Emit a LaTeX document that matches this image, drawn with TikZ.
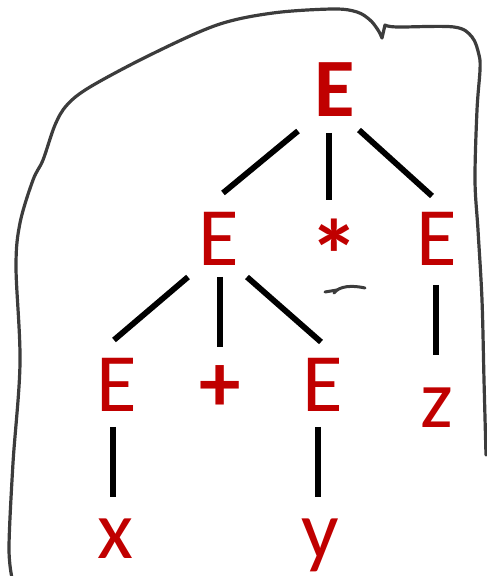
\documentclass[tikz,border=0pt]{standalone}
\usepackage{fontspec}
\setmainfont{Carlito}
\usetikzlibrary{calc}
\definecolor{sym}{HTML}{C00000}
\definecolor{pen}{HTML}{3C3C3C}
\tikzset{
  sym/.style={text=sym, anchor=base, inner sep=0pt, font=\fontsize{83}{90}\selectfont},
  symb/.style={sym, font=\fontsize{83}{90}\selectfont\bfseries},
  edge/.style={line width=5.8pt, black, line cap=butt},
  outline/.style={line width=3.2pt, pen, line cap=round, line join=round},
  penmark/.style={line width=3pt, pen, line cap=round}
}
\begin{document}
\begin{tikzpicture}[x=1pt,y=1pt]
\useasboundingbox (0,0) rectangle (487,576);
% nodes
\node[symb] (t)  at (335,459) {E};
\node[sym]  (l)  at (219,310) {E};
\node[symb, font=\fontsize{100}{110}\selectfont\bfseries] (m)  at (334,285) {*};
\node[sym]  (r)  at (437,310) {E};
\node[sym]  (ll) at (117,164) {E};
\node[symb] (lm) at (220,164) {+};
\node[sym]  (lr) at (323,164) {E};
\node[sym]  (rz) at (437,148) {z};
\node[sym]  (x)  at (115,17) {x};
\node[sym]  (y)  at (320,17) {y};
% edges
\draw[edge] ($(t.base)+(-37,-14)$) -- ($(l.base)+(4,73)$);
\draw[edge] ($(t.base)+(-6,-16)$) -- ($(m.base)+(-5,91)$);
\draw[edge] ($(t.base)+(24,-13)$) -- ($(r.base)+(-5,70)$);
\draw[edge] ($(l.base)+(-31,-11)$) -- ($(ll.base)+(-3,72)$);
\draw[edge] ($(l.base)+(1,-11)$) -- ($(lm.base)+(0,65)$);
\draw[edge] ($(l.base)+(28,-11)$) -- ($(lr.base)+(-2,70)$);
\draw[edge] ($(r.base)+(-1,-19)$) -- ($(rz.base)+(-1,73)$);
\draw[edge] ($(ll.base)+(-4,-15)$) -- ($(x.base)+(-2,62)$);
\draw[edge] ($(lr.base)+(-5,-15)$) -- ($(y.base)+(-2,62)$);
% small hand mark under *
\draw[penmark] (365,288) .. controls (352,291) and (339,290) .. (334,283);
\draw[penmark] (325,284) -- (337,286);
% hand-drawn outline
\draw[outline] plot[smooth, tension=0.55] coordinates {(12,-2) (9,29) (13,113) (20,213) (16,309) (20,353) (33,396) (43,416) (55,451) (67,471) (90,489) (150,521) (217,551) (273,563) (333,567) (357,564) (370,556) (378,546) (382,538)}
  -- plot[smooth, tension=0.55] coordinates {(385,551) (397,549) (454,549) (472,539) (479,521) (480,506) (477,466) (475,396) (478,346) (482,276) (484,196) (486,121)};
\end{tikzpicture}
\end{document}
